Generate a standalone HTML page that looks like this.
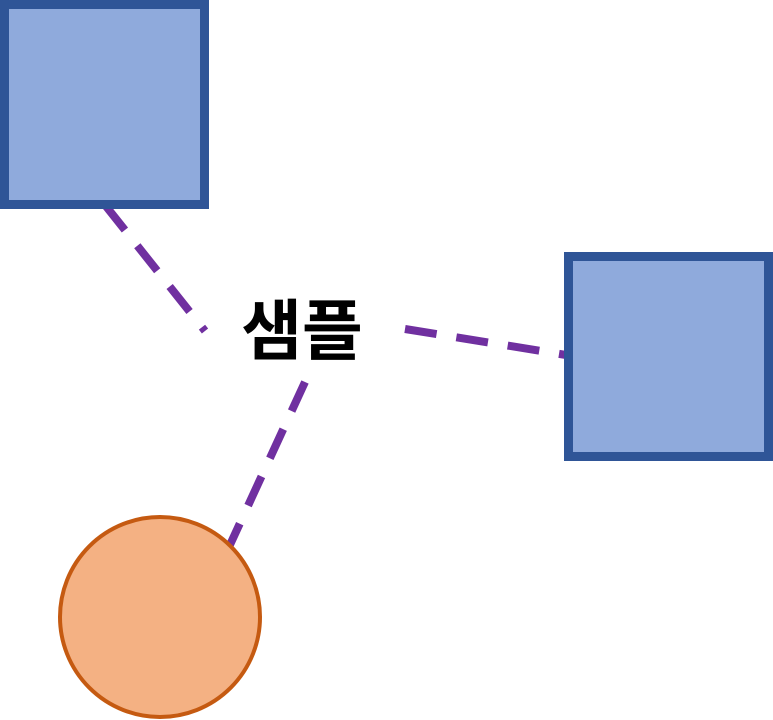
<!DOCTYPE html>
<html><head><meta charset="utf-8"><style>
html,body{margin:0;padding:0;background:#fff;width:773px;height:720px;overflow:hidden}
svg{display:block}
</style></head><body>
<svg width="773" height="720" viewBox="0 0 773 720">
  <g stroke="#7030A0" stroke-width="8" stroke-dasharray="32,20" fill="none">
    <line x1="105" y1="205" x2="205" y2="331"/>
    <line x1="405" y1="329" x2="566" y2="355"/>
    <line x1="305" y1="382" x2="229" y2="547"/>
  </g>
  <rect x="4.5" y="4.5" width="200" height="200" fill="#8FAADC" stroke="#2F5597" stroke-width="9"/>
  <rect x="568.5" y="256.5" width="200" height="200" fill="#8FAADC" stroke="#2F5597" stroke-width="9"/>
  <circle cx="160" cy="617" r="100" fill="#F4B183" stroke="#C55A11" stroke-width="4"/>
  <text x="302" y="354" text-anchor="middle" font-family="'Liberation Sans','Noto Sans CJK KR','NanumGothic',sans-serif" font-weight="bold" font-size="66" fill="#000">샘플</text>
</svg>
</body></html>
